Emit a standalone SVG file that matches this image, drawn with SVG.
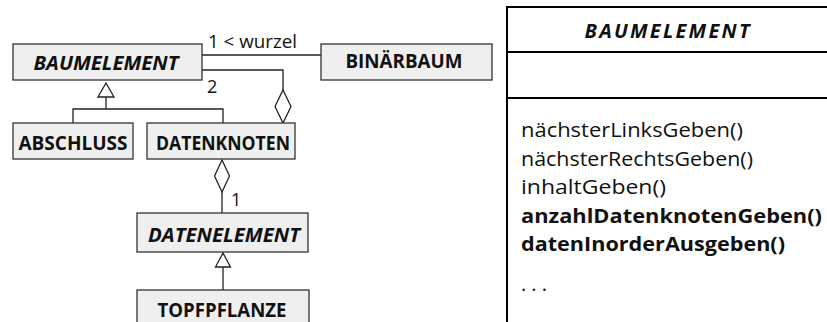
<svg xmlns="http://www.w3.org/2000/svg" width="827" height="322" viewBox="0 0 827 322">
  <defs>
    <style>
      .box { fill: #efefef; stroke: #333; stroke-width: 1.3; }
      .line { fill: none; stroke: #222; stroke-width: 1.3; }
      .head { fill: #fff; stroke: #222; stroke-width: 1.3; }
      .name { font-family: "Open Sans", "Noto Sans", sans-serif; font-size: 20px; font-weight: bold; fill: #111; text-anchor: middle; }
      .abstract { font-style: italic; }
      .label { font-family: "Open Sans", "Noto Sans", sans-serif; font-size: 18px; fill: #111; }
      .panel { fill: #fff; stroke: #000; stroke-width: 2; }
      .op { font-family: "Open Sans", "Noto Sans", sans-serif; font-size: 20px; fill: #111; }
      .bold { font-weight: bold; }
    </style>
  </defs>

  <rect width="827" height="322" fill="#fff"/>

  <!-- connectors -->
  <g id="connectors">
    <!-- association BAUMELEMENT - BINÄRBAUM -->
    <path class="line" d="M202,55 H321"/>
    <!-- aggregation DATENKNOTEN -> BAUMELEMENT (2) -->
    <path class="line" d="M202,70 H283 V90"/>
    <polygon class="head" points="283,90 291,106.5 283,123 275,106.5"/>
    <!-- generalization ABSCHLUSS / DATENKNOTEN -> BAUMELEMENT -->
    <path class="line" d="M73,123 V109 H223 V123 M106,109 V97"/>
    <polygon class="head" points="106,83 114,97 98,97"/>
    <!-- aggregation DATENKNOTEN -> DATENELEMENT (1) -->
    <polygon class="head" points="222,160 229.5,176 222,192 214.5,176"/>
    <path class="line" d="M222,192 V213"/>
    <!-- generalization TOPFPFLANZE -> DATENELEMENT -->
    <polygon class="head" points="223,253 230.5,267 215.5,267"/>
    <path class="line" d="M223,267 V290"/>

    <text class="label" x="208" y="48" textLength="89" lengthAdjust="spacingAndGlyphs">1 &lt; wurzel</text>
    <text class="label" x="207" y="93">2</text>
    <text class="label" x="231" y="206">1</text>
  </g>

  <g id="baumelement">
    <rect class="box" x="13" y="44" width="189" height="36"/>
    <text class="name abstract" x="106" y="70" textLength="145" lengthAdjust="spacingAndGlyphs">BAUMELEMENT</text>
  </g>

  <g id="binaerbaum">
    <rect class="box" x="321" y="44" width="171" height="36"/>
    <text class="name" x="404" y="68" textLength="117" lengthAdjust="spacingAndGlyphs">BINÄRBAUM</text>
  </g>

  <g id="abschluss">
    <rect class="box" x="13" y="123" width="120" height="36"/>
    <text class="name" x="73" y="150" textLength="109" lengthAdjust="spacingAndGlyphs">ABSCHLUSS</text>
  </g>

  <g id="datenknoten">
    <rect class="box" x="147" y="123" width="148" height="36"/>
    <text class="name" x="223" y="150" textLength="134" lengthAdjust="spacingAndGlyphs">DATENKNOTEN</text>
  </g>

  <g id="datenelement">
    <rect class="box" x="137" y="213" width="171" height="39"/>
    <text class="name abstract" x="224" y="242" textLength="152" lengthAdjust="spacingAndGlyphs">DATENELEMENT</text>
  </g>

  <g id="topfpflanze">
    <rect class="box" x="137" y="290" width="172" height="40"/>
    <text class="name" x="222" y="317" textLength="129" lengthAdjust="spacingAndGlyphs">TOPFPFLANZE</text>
  </g>

  <!-- class detail of BAUMELEMENT -->
  <g id="baumelement-detail">
    <rect class="panel" x="507" y="7" width="340" height="330"/>
    <path fill="none" stroke="#000" stroke-width="2" d="M507,52 H827 M507,98 H827"/>
    <text class="name abstract" x="667" y="38" font-size="18" textLength="165" lengthAdjust="spacing">BAUMELEMENT</text>
    <text class="op" x="521" y="137" textLength="222" lengthAdjust="spacingAndGlyphs">nächsterLinksGeben()</text>
    <text class="op" x="521" y="166" textLength="232" lengthAdjust="spacingAndGlyphs">nächsterRechtsGeben()</text>
    <text class="op" x="521" y="194" textLength="145" lengthAdjust="spacingAndGlyphs">inhaltGeben()</text>
    <text class="op bold" x="521" y="223" textLength="301" lengthAdjust="spacingAndGlyphs">anzahlDatenknotenGeben()</text>
    <text class="op bold" x="521" y="251" textLength="264" lengthAdjust="spacingAndGlyphs">datenInorderAusgeben()</text>
    <text class="op" x="521" y="291" textLength="26" lengthAdjust="spacing">...</text>
  </g>
</svg>
